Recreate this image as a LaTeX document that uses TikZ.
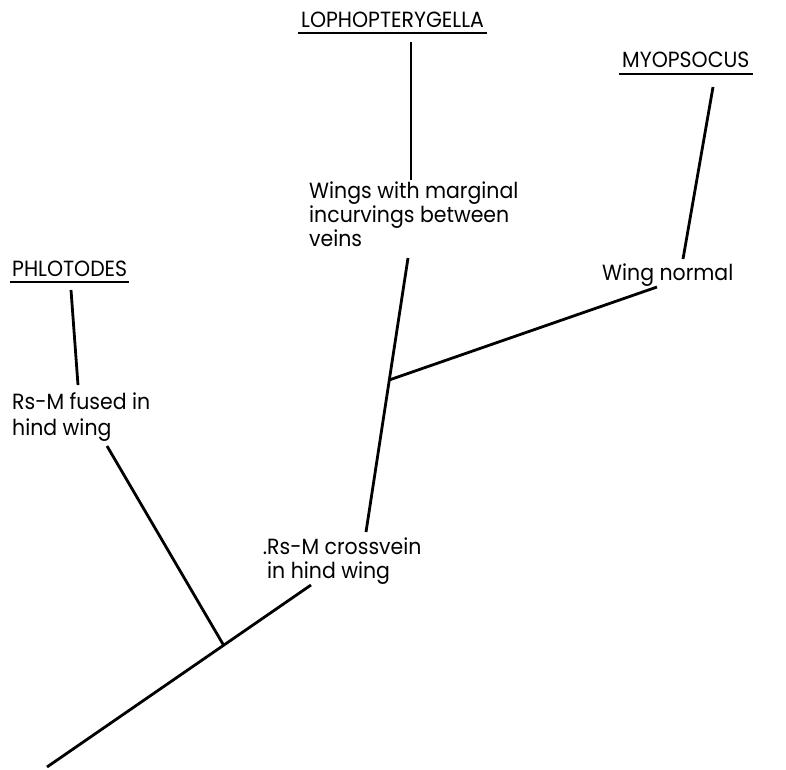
\documentclass[tikz,border=0pt]{standalone}
\usepackage{fontspec}
\setmainfont[FakeStretch=0.93]{Poppins}
\usetikzlibrary{calc}

\tikzset{
  branch/.style={line width=2.8pt},
  txt/.style={anchor=base west, inner sep=0pt, align=left,
    font=\fontsize{22}{24}\selectfont},
  taxon/.style={txt},
  uline/.style={line width=2.4pt}
}

\begin{document}
\begin{tikzpicture}[x=1pt,y=-1pt]
\useasboundingbox (0,0) rectangle (786,769);

% Text Node (multi-line nodes sit on their last baseline)
\node (lopho) [taxon] at (301,27) {LOPHOPTERYGELLA};
% Text Node
\node (myop) [taxon] at (622,67) {MYOPSOCUS};
% Text Node
\node (phlot) [taxon] at (12,276) {PHLOTODES};
% Text Node
\node (wings) [txt] at (309,246) {Wings with marginal\\incurvings between\\veins};
% Text Node
\node (normal) [txt] at (602,280) {Wing normal};
% Text Node
\node (fused) [txt] at (12,435) {Rs-M fused in\\[2pt]hind wing};
% Text Node
\node (cross) [txt] at (267,578) {\llap{.}Rs-M crossvein\\in hind wing};

%underlines
\draw [uline] ([shift={(-3,6)}]lopho.base west) -- ([shift={(3,6)}]lopho.base east);
\draw [uline] ([shift={(-3,7)}]myop.base west) -- ([shift={(3,7)}]myop.base east);
\draw [uline] ([shift={(-2,6)}]phlot.base west) -- ([shift={(2,6)}]phlot.base east);

%line ends
\coordinate (root) at (47,767);
\coordinate (c1) at (311,585);
\coordinate (f1) at (107,446);
\coordinate (f2) at (78,385);
\coordinate (p1) at (71,290);
\coordinate (v1) at (366,532);
\coordinate (v2) at (408,258);
\coordinate (l1) at (411,180);
\coordinate (l2) at (411,42);
\coordinate (n1) at (657,287);
\coordinate (n2) at (683,259);
\coordinate (m1) at (713,87);
%junctions
\coordinate (j1) at ($(root)!0.669!(c1)$);
\coordinate (j2) at ($(v1)!0.555!(v2)$);

%Straight Lines
\draw [branch] (root) -- (c1);
\draw [branch] (j1) -- (f1);
\draw [branch] (f2) -- (p1);
\draw [branch] (v1) -- (v2);
\draw [branch] (j2) -- (n1);
\draw [branch] (l1) -- (l2);
\draw [branch] (n2) -- (m1);

\end{tikzpicture}
\end{document}
